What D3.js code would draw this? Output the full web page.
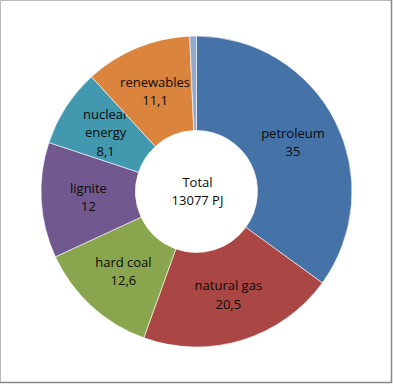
<!DOCTYPE html>
<html>
<head>
<meta charset="utf-8">
<title>Energy mix donut</title>
<script src="https://d3js.org/d3.v7.min.js"></script>
<style>
  body { margin: 0; background: #fff; }
  svg text { font-family: "Open Sans", "Noto Sans", sans-serif; font-size: 13px; fill: #0a0a0a; }
</style>
</head>
<body>
<div id="chart"></div>
<script>
// shares of primary energy, percent
var categories = ["petroleum", "natural gas", "hard coal", "lignite", "nuclear energy", "renewables", "other"];
var shares = [35, 20.5, 12.6, 12, 8.1, 11.1, 0.7];
var valueLabels = ["35", "20,5", "12,6", "12", "8,1", "11,1", ""];
var labelLines = [["petroleum"], ["natural gas"], ["hard coal"], ["lignite"], ["nuclear", "energy"], ["renewables"], []];
var colors = ["#4572A7", "#AA4643", "#89A54E", "#71588F", "#4198AF", "#DB843D", "#93A9CF"];
var centerText = ["Total", "13077 PJ"];

var w = 393, h = 384;
var cx = 196.5, cy = 191.5;
var outerR = 155.5, innerR = 61;

var svg = d3.select("#chart").append("svg")
  .attr("width", w)
  .attr("height", h);

// frame: light top/left, darker right/bottom
svg.append("path")
  .attr("d", "M0.5," + (h - 2) + "V0.5H" + (w - 2))
  .attr("fill", "none")
  .attr("stroke", "#b8b8b8");
svg.append("path")
  .attr("d", "M" + (w - 1.5) + ",0V" + (h - 1.5) + "H0")
  .attr("fill", "none")
  .attr("stroke", "#888")
  .attr("stroke-width", 1.5);

var data = categories.map(function(c, i) {
  return { name: c, value: shares[i], label: valueLabels[i], lines: labelLines[i], color: colors[i] };
});

var pie = d3.pie().sort(null).value(function(d) { return d.value; });
var arc = d3.arc().innerRadius(innerR).outerRadius(outerR);

var g = svg.append("g").attr("transform", "translate(" + cx + "," + cy + ")");

var slices = g.selectAll("g.slice")
  .data(pie(data))
  .enter()
  .append("g")
  .attr("class", "slice");

slices.append("path")
  .attr("d", arc)
  .attr("fill", function(d) { return d.data.color; })
  .attr("stroke", "#fff")
  .attr("stroke-width", 0.6);

slices.each(function(d) {
  var lines = d.data.lines.slice();
  if (d.data.label) lines.push(d.data.label);
  if (!lines.length) return;
  var c = arc.centroid(d);
  var lh = 18.5;
  var t = d3.select(this).append("text")
    .attr("text-anchor", "middle")
    .attr("transform", "translate(" + c[0] + "," + c[1] + ")");
  lines.forEach(function(l, i) {
    t.append("tspan")
      .attr("x", 0)
      .attr("y", (i - (lines.length - 1) / 2) * lh)
      .attr("dy", "0.35em")
      .text(l);
  });
});

var ct = g.append("text").attr("text-anchor", "middle");
centerText.forEach(function(l, i) {
  ct.append("tspan")
    .attr("x", 1)
    .attr("y", (i - 0.5) * 18.5)
    .attr("dy", "0.35em")
    .text(l);
});
</script>
</body>
</html>
